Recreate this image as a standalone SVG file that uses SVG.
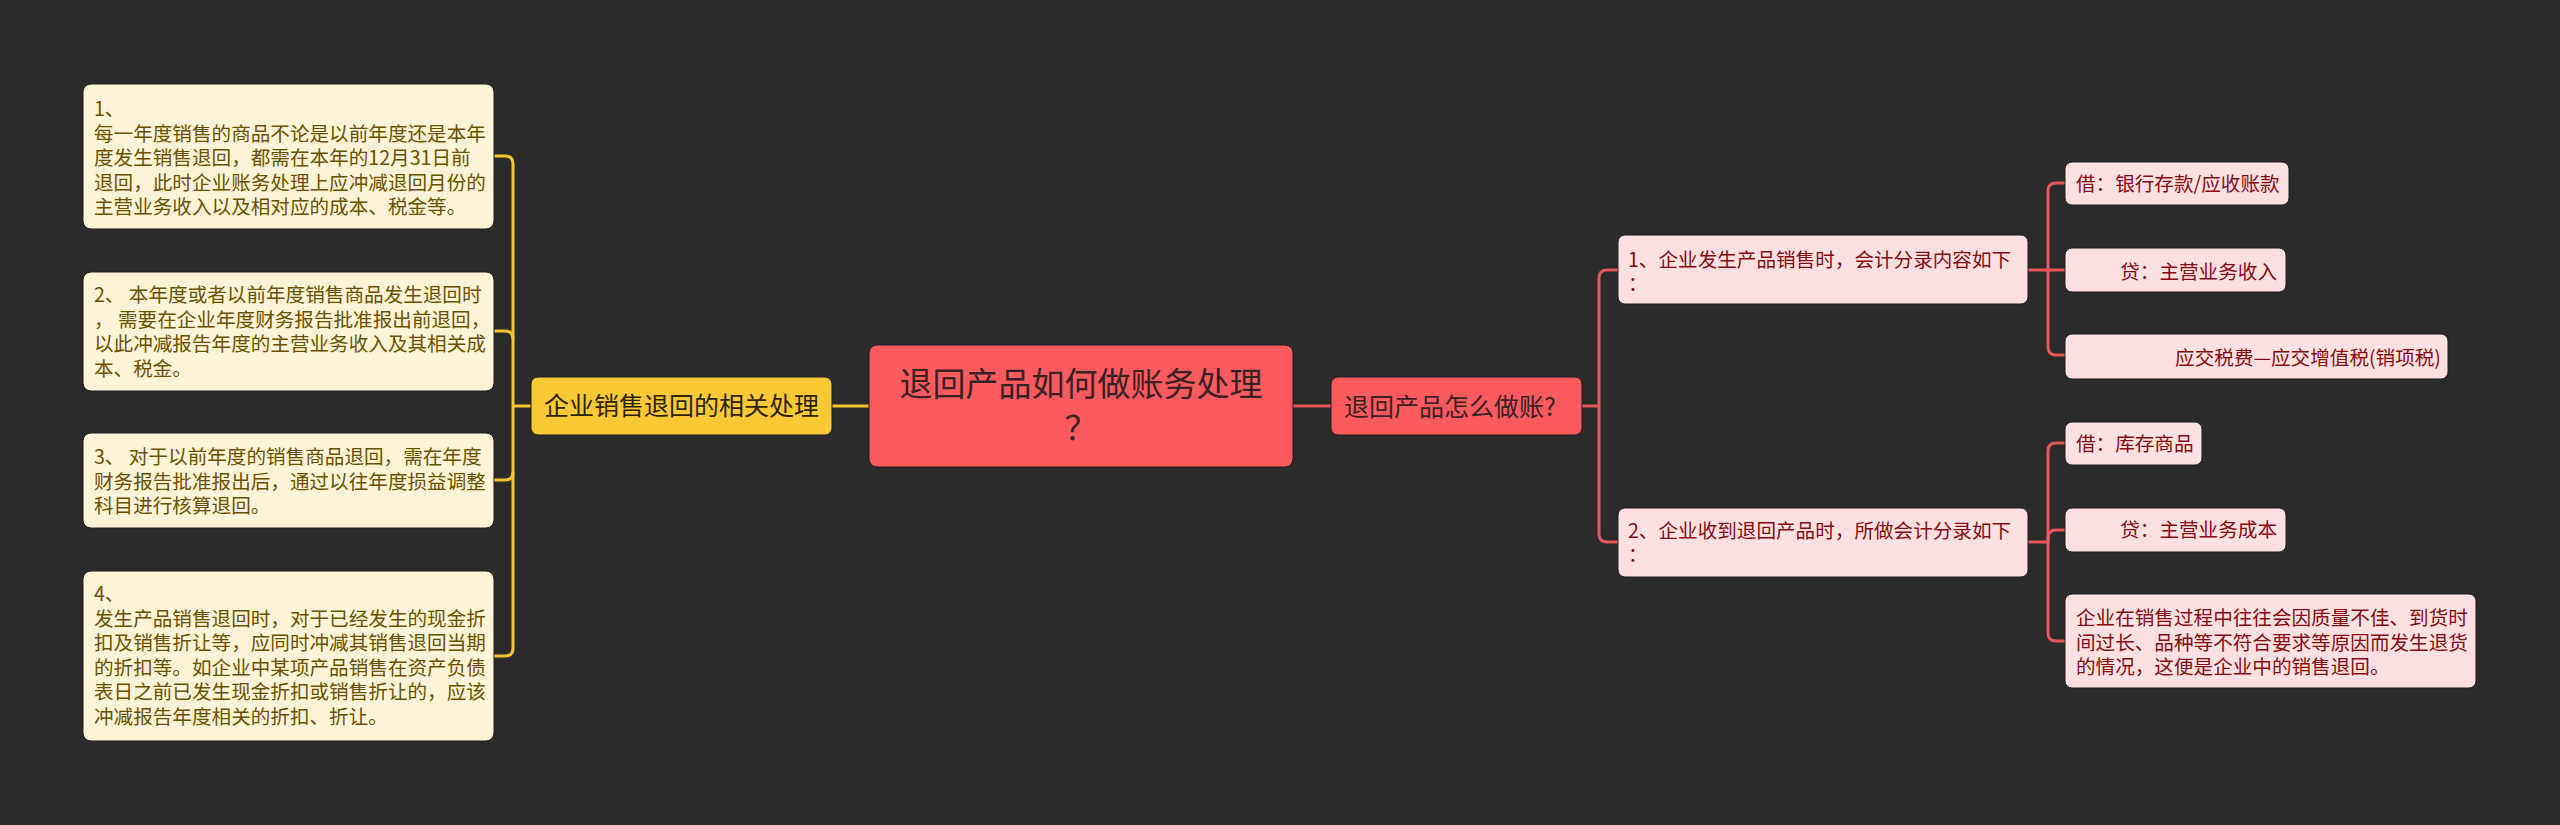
<svg xmlns="http://www.w3.org/2000/svg" width="2560" height="825" viewBox="0 0 2560 825">
<style>
text{font-family:"Noto Sans CJK SC","Noto Sans",sans-serif;}
.lbox{fill:#fdf4d7;stroke:#1e1e1e;stroke-width:1}
.ltxt{fill:#6b5000;font-size:19.6px}
.rbox{fill:#fde1e2;stroke:#1e1e1e;stroke-width:1}
.rtxt{fill:#850b10;font-size:19.6px}
.yc{fill:none;stroke:#f5c52f;stroke-width:3}
.rc{fill:none;stroke:#e8575c;stroke-width:3}
</style>
<rect width="2560" height="825" fill="#2b2b2b"/>
<g id="connectors">
<path class="yc" d="M494,156 H505 Q513,156 513,164 V648 Q513,656 505,656 H494"/>
<path class="yc" d="M494,331 H505 Q513,331 513,339"/>
<path class="yc" d="M494,480 H505 Q513,480 513,472"/>
<path class="yc" d="M531,406 H513"/>
<path class="yc" d="M832,406 H869"/>
<path class="rc" d="M1293,406 H1331"/>
<path class="rc" d="M1582,406 H1599"/>
<path class="rc" d="M1618,270 H1607 Q1599,270 1599,278 V534 Q1599,542 1607,542 H1618"/>
<path class="rc" d="M2028,270 H2065"/>
<path class="rc" d="M2065,183 H2056 Q2048,183 2048,191 V347 Q2048,355 2056,355 H2065"/>
<path class="rc" d="M2028,542 H2048"/>
<path class="rc" d="M2065,443 H2056 Q2048,443 2048,451 V633 Q2048,641 2056,641 H2065"/>
<path class="rc" d="M2048,542 V538 Q2048,530 2056,530 H2065"/>
</g>
<g id="root">
<rect x="869" y="345" width="424" height="122" rx="8" fill="#fb5a5e" stroke="#1e1e1e" stroke-width="1"/>
<text font-size="33" fill="#3a2224" text-anchor="middle"><tspan x="1081" y="396">退回产品如何做账务处理</tspan><tspan x="1081" dy="44">？</tspan></text>
</g>
<g id="left-main">
<rect x="531" y="377" width="301" height="58" rx="7" fill="#fcc936" stroke="#1e1e1e" stroke-width="1"/>
<text x="681.5" y="415" text-anchor="middle" font-size="25" fill="#2e2400">企业销售退回的相关处理</text>
</g>
<g id="left-1">
<rect class="lbox" x="83" y="84" width="411" height="145" rx="8"/>
<text class="ltxt"><tspan x="94" y="116">1、</tspan><tspan x="94" dy="24.5">每一年度销售的商品不论是以前年度还是本年</tspan><tspan x="94" dy="24.5">度发生销售退回，都需在本年的12月31日前</tspan><tspan x="94" dy="24.5">退回，此时企业账务处理上应冲减退回月份的</tspan><tspan x="94" dy="24.5">主营业务收入以及相对应的成本、税金等。</tspan></text>
</g>
<g id="left-2">
<rect class="lbox" x="83" y="272" width="411" height="119" rx="8"/>
<text class="ltxt"><tspan x="94" y="302">2、 本年度或者以前年度销售商品发生退回时</tspan><tspan x="94" dy="24.5">， 需要在企业年度财务报告批准报出前退回，</tspan><tspan x="94" dy="24.5">以此冲减报告年度的主营业务收入及其相关成</tspan><tspan x="94" dy="24.5">本、税金。</tspan></text>
</g>
<g id="left-3">
<rect class="lbox" x="83" y="433" width="411" height="95" rx="8"/>
<text class="ltxt"><tspan x="94" y="464">3、 对于以前年度的销售商品退回，需在年度</tspan><tspan x="94" dy="24.5">财务报告批准报出后，通过以往年度损益调整</tspan><tspan x="94" dy="24.5">科目进行核算退回。</tspan></text>
</g>
<g id="left-4">
<rect class="lbox" x="83" y="571" width="411" height="170" rx="8"/>
<text class="ltxt"><tspan x="94" y="601">4、</tspan><tspan x="94" dy="24.5">发生产品销售退回时，对于已经发生的现金折</tspan><tspan x="94" dy="24.5">扣及销售折让等，应同时冲减其销售退回当期</tspan><tspan x="94" dy="24.5">的折扣等。如企业中某项产品销售在资产负债</tspan><tspan x="94" dy="24.5">表日之前已发生现金折扣或销售折让的，应该</tspan><tspan x="94" dy="24.5">冲减报告年度相关的折扣、折让。</tspan></text>
</g>
<g id="right-main">
<rect x="1331" y="377" width="251" height="58" rx="7" fill="#fb5a5e" stroke="#1e1e1e" stroke-width="1"/>
<text x="1344" y="416" font-size="25" fill="#3a2224">退回产品怎么做账?</text>
</g>
<g id="right-1">
<rect class="rbox" x="1618" y="235" width="410" height="69" rx="7"/>
<text class="rtxt"><tspan x="1628" y="266.5">1、企业发生产品销售时，会计分录内容如下</tspan><tspan x="1628" dy="24.5">：</tspan></text>
</g>
<g id="right-1-1">
<rect class="rbox" x="2065" y="162" width="224" height="43" rx="7"/>
<text class="rtxt" x="2076" y="191">借：银行存款/应收账款</text>
</g>
<g id="right-1-2">
<rect class="rbox" x="2065" y="248" width="221" height="44" rx="7"/>
<text class="rtxt" x="2277" y="279" text-anchor="end">贷：主营业务收入</text>
</g>
<g id="right-1-3">
<rect class="rbox" x="2065" y="334" width="383" height="45" rx="7"/>
<text class="rtxt" x="2441" y="365" text-anchor="end">应交税费—应交增值税(销项税)</text>
</g>
<g id="right-2">
<rect class="rbox" x="1618" y="508" width="410" height="69" rx="7"/>
<text class="rtxt"><tspan x="1628" y="537.5">2、企业收到退回产品时，所做会计分录如下</tspan><tspan x="1628" dy="24.5">：</tspan></text>
</g>
<g id="right-2-1">
<rect class="rbox" x="2065" y="422" width="137" height="43" rx="7"/>
<text class="rtxt" x="2076" y="451">借：库存商品</text>
</g>
<g id="right-2-2">
<rect class="rbox" x="2065" y="508" width="221" height="44" rx="7"/>
<text class="rtxt" x="2277" y="537" text-anchor="end">贷：主营业务成本</text>
</g>
<g id="right-2-3">
<rect class="rbox" x="2065" y="594" width="411" height="94" rx="7"/>
<text class="rtxt"><tspan x="2076" y="625">企业在销售过程中往往会因质量不佳、到货时</tspan><tspan x="2076" dy="24.5">间过长、品种等不符合要求等原因而发生退货</tspan><tspan x="2076" dy="24.5">的情况，这便是企业中的销售退回。</tspan></text>
</g>
</svg>
